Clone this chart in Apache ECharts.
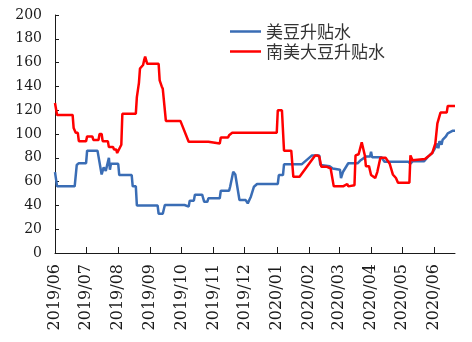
<!DOCTYPE html>
<html>
<head>
<meta charset="utf-8">
<script src="https://cdn.jsdelivr.net/npm/echarts@6/dist/echarts.min.js"></script>
<style>
html,body{margin:0;padding:0;background:#fff;}
#chart{width:472px;height:342px;}
</style>
</head>
<body>
<div id="chart"></div>
<script>
const seriesNames = ['美豆升贴水', '南美大豆升贴水'];
const tickLabels = ['2019/06','2019/07','2019/08','2019/09','2019/10','2019/11','2019/12','2020/01','2020/02','2020/03','2020/04','2020/05','2020/06'];
const xStart = '2019-06-01';
const xEnd = '2020-06-21';
const yTicks = [0, 20, 40, 60, 80, 100, 120, 140, 160, 180, 200];

const blueDates = ['2019-06-01','2019-06-02','2019-06-03','2019-06-20','2019-06-22','2019-06-23','2019-06-24','2019-07-01','2019-07-02','2019-07-12','2019-07-16','2019-07-18','2019-07-20','2019-07-23','2019-07-24','2019-07-25','2019-08-01','2019-08-02','2019-08-14','2019-08-15','2019-08-18','2019-08-19','2019-09-08','2019-09-09','2019-09-13','2019-09-15','2019-10-04','2019-10-08','2019-10-09','2019-10-13','2019-10-14','2019-10-21','2019-10-23','2019-10-26','2019-10-27','2019-11-07','2019-11-08','2019-11-16','2019-11-17','2019-11-20','2019-11-22','2019-11-26','2019-12-02','2019-12-04','2019-12-07','2019-12-10','2019-12-13','2020-01-02','2020-01-03','2020-01-07','2020-01-08','2020-01-25','2020-02-04','2020-02-11','2020-02-12','2020-02-21','2020-02-24','2020-03-02','2020-03-03','2020-03-05','2020-03-10','2020-03-19','2020-03-22','2020-03-27','2020-03-31','2020-04-01','2020-04-02','2020-04-11','2020-04-14','2020-05-07','2020-05-09','2020-05-11','2020-05-22','2020-05-26','2020-05-30','2020-06-03','2020-06-04','2020-06-05','2020-06-06','2020-06-08','2020-06-09','2020-06-12','2020-06-14','2020-06-19','2020-06-21'];
const blueValues = [68,68,56,56,74,74,75.5,75.5,86,86,66,72,69,80,70,75,75,65.5,65.5,56,56,40,40,33,33,40.3,40.3,39,44,44,49,49,43,43,46,46,52.4,52.4,55.7,68.3,66,44.5,44.5,41.7,47.3,55.7,58,58,65.5,65.5,74.5,74.5,82,82,74,73,71,70,63,68.3,75.4,75.4,78,81,81,85,80.5,80.5,76.7,76.7,75,77,77,81,84,90,92,88,94,91,95,97.7,100.6,102.8,102.8];

const redDates = ['2019-06-01','2019-06-02','2019-06-03','2019-06-18','2019-06-19','2019-06-20','2019-06-21','2019-06-23','2019-06-24','2019-07-01','2019-07-02','2019-07-07','2019-07-08','2019-07-13','2019-07-14','2019-07-16','2019-07-17','2019-07-22','2019-07-23','2019-07-27','2019-07-28','2019-07-30','2019-07-31','2019-08-04','2019-08-05','2019-08-18','2019-08-19','2019-08-20','2019-08-21','2019-08-22','2019-08-25','2019-08-26','2019-08-27','2019-08-28','2019-08-29','2019-09-09','2019-09-10','2019-09-11','2019-09-12','2019-09-13','2019-09-16','2019-09-30','2019-10-08','2019-10-27','2019-10-28','2019-11-07','2019-11-08','2019-11-15','2019-11-16','2019-11-19','2020-01-01','2020-01-02','2020-01-06','2020-01-08','2020-01-15','2020-01-17','2020-01-23','2020-02-07','2020-02-09','2020-02-11','2020-02-13','2020-02-18','2020-02-19','2020-02-22','2020-02-25','2020-03-02','2020-03-03','2020-03-05','2020-03-09','2020-03-10','2020-03-16','2020-03-17','2020-03-20','2020-03-23','2020-03-26','2020-03-27','2020-03-30','2020-04-01','2020-04-05','2020-04-07','2020-04-10','2020-04-15','2020-04-19','2020-04-22','2020-04-25','2020-04-27','2020-05-08','2020-05-09','2020-05-11','2020-05-23','2020-05-26','2020-05-30','2020-06-02','2020-06-04','2020-06-07','2020-06-13','2020-06-14','2020-06-21'];
const redValues = [126,126,116,116,105,105,101,101,94,94,98,98,95,95,100,100,94,94,89,89,87,87,84,91,117,117,131,131,143,155,158,162,165,165,159,159,145,145,140,138,111,111,93.5,93.5,92,92,97,97,99,101,101,120,120,86,86,64,64,82,82,81,72.5,72.5,71,71,56,56,57.5,56,58,56,57,82,83,93,82,73,73,65.5,63,68,80,80,75,66,63,59,59,82,78,79,81,84,92,109,118,118,123.5,123.5];

const DAY = 86400000;
function parseUTC(s) {
  const p = s.split('-').map(Number);
  return Date.UTC(p[0], p[1] - 1, p[2]) / DAY;
}
function labelToDay(l) {
  const p = l.split('/').map(Number);
  return Date.UTC(p[0], p[1] - 1, 1) / DAY;
}
const tickDays = tickLabels.map(labelToDay);
const pairs = (d, v) => d.map((s, i) => [parseUTC(s), v[i]]);

const axisColor = '#1a1a1a';
const chart = echarts.init(document.getElementById('chart'), null, {renderer: 'canvas'});
chart.setOption({
  animation: false,
  backgroundColor: '#ffffff',
  grid: {left: 55, right: 17, top: 15, bottom: 89, containLabel: false, outerBoundsMode: 'none'},
  legend: {
    orient: 'vertical',
    left: 225,
    top: 18,
    icon: 'rect',
    itemWidth: 31,
    itemHeight: 2.5,
    itemGap: 3,
    data: seriesNames,
    textStyle: {fontFamily: '"Noto Sans CJK SC"', fontSize: 17, color: '#333333', lineHeight: 17}
  },
  xAxis: {
    type: 'value',
    min: parseUTC(xStart),
    max: parseUTC(xEnd),
    axisLine: {show: true, onZero: false, lineStyle: {color: axisColor, width: 1}},
    axisTick: {show: true, inside: true, length: 6, customValues: tickDays, lineStyle: {color: axisColor}},
    splitLine: {show: false},
    axisLabel: {
      customValues: tickDays,
      rotate: 90,
      margin: 11,
      fontFamily: '"DejaVu Serif"',
      fontSize: 16,
      color: axisColor,
      formatter: function (v) {
        const i = tickDays.indexOf(v);
        return i >= 0 ? tickLabels[i] : '';
      }
    }
  },
  yAxis: {
    type: 'value',
    min: yTicks[0],
    max: yTicks[yTicks.length - 1],
    interval: 20,
    axisLine: {show: true, lineStyle: {color: axisColor, width: 1}},
    axisTick: {show: true, inside: true, length: 4, lineStyle: {color: axisColor}},
    splitLine: {show: false},
    axisLabel: {margin: 13, fontFamily: '"DejaVu Serif"', fontSize: 14, color: axisColor}
  },
  series: [
    {
      name: seriesNames[0],
      type: 'line',
      data: pairs(blueDates, blueValues),
      symbol: 'none',
      showSymbol: false,
      lineStyle: {color: '#3A6DB5', width: 2.5},
      itemStyle: {color: '#3A6DB5'}
    },
    {
      name: seriesNames[1],
      type: 'line',
      data: pairs(redDates, redValues),
      symbol: 'none',
      showSymbol: false,
      lineStyle: {color: '#FF0000', width: 2.5},
      itemStyle: {color: '#FF0000'}
    }
  ]
});
</script>
</body>
</html>
